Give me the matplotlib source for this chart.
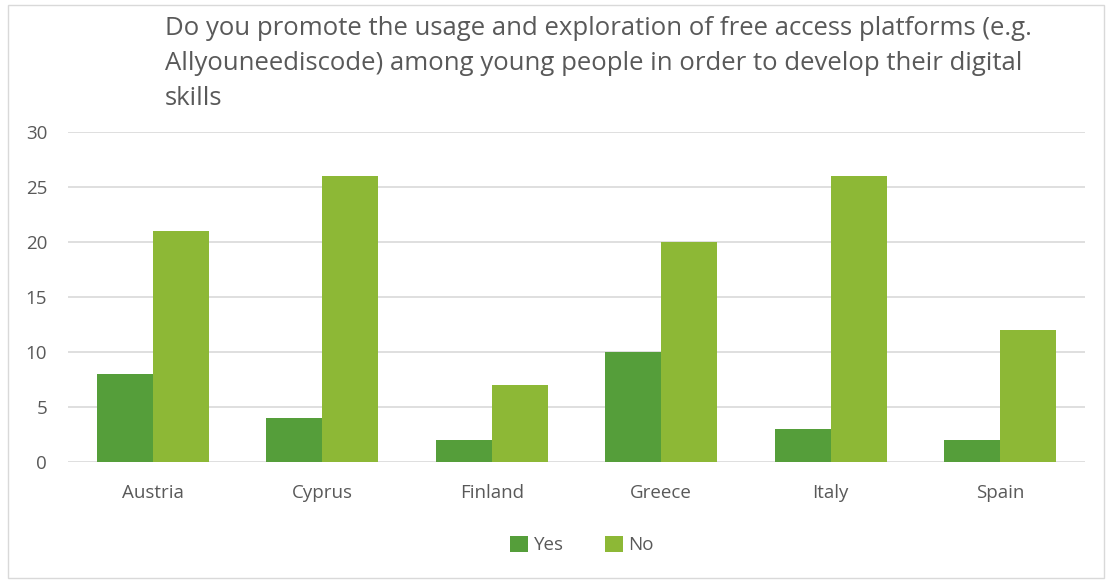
import matplotlib
matplotlib.use("Agg")
from matplotlib import pyplot as plt
from matplotlib.patches import Rectangle
import numpy as np

countries = ["Austria", "Cyprus", "Finland", "Greece", "Italy", "Spain"]
yes_values = [8, 4, 2, 10, 3, 2]
no_values = [21, 26, 7, 20, 26, 12]
title_lines = ["Do you promote the usage and exploration of free access platforms (e.g.",
               "Allyouneediscode) among young people in order to develop their digital",
               "skills"]

YES_COLOR = "#559e3a"
NO_COLOR = "#8db836"
TEXT_COLOR = "#595959"

plt.rcParams['font.family'] = ['Open Sans', 'DejaVu Sans']

fig = plt.figure(figsize=(11.1, 5.8), dpi=100)
fig.patches.append(Rectangle((8 / 1110, 1 - 578 / 580), 1096 / 1110, 573 / 580,
                             transform=fig.transFigure, fill=False,
                             edgecolor="#d9d9d9", linewidth=1))

ax = fig.add_axes([68 / 1110, 1 - 462 / 580, 1017 / 1110, 330 / 580])
x = np.arange(len(countries))
w = 0.33
ax.bar(x - w / 2, yes_values, w, color=YES_COLOR, label="Yes", zorder=3)
ax.bar(x + w / 2, no_values, w, color=NO_COLOR, label="No", zorder=3)

ax.set_xlim(-0.5, len(countries) - 0.5)
ax.set_ylim(0, 30)
ax.set_yticks(range(0, 31, 5))
ax.set_xticks(x)
ax.set_xticklabels(countries)
ax.yaxis.grid(True, color="#d9d9d9", linewidth=1.2, zorder=0)
for s in ax.spines.values():
    s.set_visible(False)
ax.tick_params(length=0, labelsize=13.5, labelcolor=TEXT_COLOR)
ax.tick_params(axis='y', pad=15)
ax.tick_params(axis='x', pad=16)

# title, one text per line so the line positions match the reference
for i, line in enumerate(title_lines):
    fig.text(165 / 1110, 1 - (35 + 35 * i) / 580, line, ha="left", va="baseline",
             fontsize=18.5, color=TEXT_COLOR)

fig.legend(loc="center", bbox_to_anchor=(582 / 1110, 1 - 545 / 580), ncol=2,
           frameon=False, fontsize=13.5, labelcolor=TEXT_COLOR,
           handlelength=0.95, handleheight=0.95, handletextpad=0.3, columnspacing=2.2)

fig.savefig("out.png", dpi=100)
